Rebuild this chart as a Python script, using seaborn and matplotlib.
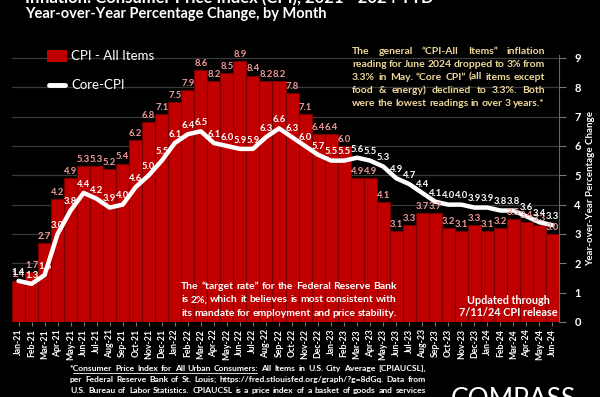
import numpy as np
import pandas as pd
import seaborn as sns
import matplotlib.pyplot as plt
from matplotlib.patches import Rectangle
from matplotlib.lines import Line2D

# ---- data ----
months = ["Jan-21", "Feb-21", "Mar-21", "Apr-21", "May-21", "Jun-21", "Jul-21", "Aug-21",
          "Sep-21", "Oct-21", "Nov-21", "Dec-21", "Jan-22", "Feb-22", "Mar-22", "Apr-22",
          "May-22", "Jun-22", "Jul-22", "Aug-22", "Sep-22", "Oct-22", "Nov-22", "Dec-22",
          "Jan-23", "Feb-23", "Mar-23", "Apr-23", "May-23", "Jun-23", "Jul-23", "Aug-23",
          "Sep-23", "Oct-23", "Nov-23", "Dec-23", "Jan-24", "Feb-24", "Mar-24", "Apr-24",
          "May-24", "Jun-24"]
cpi_all = [1.4, 1.7, 2.7, 4.2, 4.9, 5.3, 5.3, 5.2, 5.4, 6.2, 6.8, 7.1,
           7.5, 7.9, 8.6, 8.2, 8.5, 8.9, 8.4, 8.2, 8.2, 7.8, 7.1, 6.4,
           6.4, 6.0, 4.9, 4.9, 4.1, 3.1, 3.3, 3.7, 3.7, 3.2, 3.1, 3.3,
           3.1, 3.2, 3.5, 3.4, 3.3, 3.0]
core_cpi = [1.4, 1.3, 1.6, 3.0, 3.8, 4.4, 4.2, 3.9, 4.0, 4.6, 5.0, 5.5,
            6.1, 6.4, 6.5, 6.1, 6.0, 5.9, 5.9, 6.3, 6.6, 6.3, 6.0, 5.7,
            5.5, 5.5, 5.6, 5.5, 5.3, 4.9, 4.7, 4.4, 4.1, 4.0, 4.0, 3.9,
            3.9, 3.8, 3.8, 3.6, 3.4, 3.3]
y_ticks = list(range(10))

df = pd.DataFrame({"month": months, "cpi": cpi_all, "core": core_cpi,
                   "pos": np.arange(len(months))})

sns.set_style("dark", {"axes.facecolor": "black", "figure.facecolor": "black"})
plt.rcParams["font.family"] = ["Lato", "DejaVu Sans"]

W, H = 600, 397
fig = plt.figure(figsize=(W / 100, H / 100), dpi=100, facecolor="black")
ax = fig.add_axes([12 / W, 1 - 322 / H, 547 / W, 267 / H])
ax.set_facecolor("black")

RED = "#c00000"
sns.barplot(data=df, x="month", y="cpi", color=RED, saturation=1, width=1.0,
            edgecolor="#7a0000", linewidth=0.8, ax=ax, zorder=2)
sns.lineplot(data=df, x="pos", y="core", color="white", linewidth=3.2, ax=ax,
             zorder=3, solid_joinstyle="round", solid_capstyle="round")

# value labels
for i, v in enumerate(cpi_all):
    ax.annotate(f"{v:.1f}", (i, v), xytext=(0, 1.5), textcoords="offset points",
                ha="center", va="bottom", color="#f29a9a", fontsize=6.8,
                fontweight="bold", zorder=4)
for i, v in enumerate(core_cpi):
    ax.annotate(f"{v:.1f}", (i, v), xytext=(0, 3), textcoords="offset points",
                ha="center", va="bottom", color="white", fontsize=6.8,
                fontweight="bold", zorder=5)

ax.set_xlim(-0.5, len(months) - 0.5)
ax.set_ylim(0, 9.1)
ax.set_yticks(y_ticks)
ax.yaxis.tick_right()
ax.yaxis.set_label_position("right")
ax.set_ylabel("Year-over-Year Percentage Change", color="white", fontsize=7,
              fontweight="bold", labelpad=4)
ax.set_xlabel("")
ax.set_xticks(range(len(months)))
ax.set_xticklabels(months, rotation=90, color="white", fontsize=6.3, fontweight="bold")
ax.tick_params(axis="y", colors="white", labelsize=8, length=5, color="#777777",
               right=True, left=False, pad=6)
ax.tick_params(axis="x", bottom=True, length=3, color="#777777", pad=2)
for lab in ax.get_yticklabels():
    lab.set_fontweight("bold")
ax.grid(axis="y", color="#3a3a3a", linewidth=0.9)
ax.grid(axis="x", visible=False)
ax.set_axisbelow(True)
for s in ["left", "top", "bottom"]:
    ax.spines[s].set_visible(False)
ax.spines["right"].set_color("#666666")
ax.spines["right"].set_linewidth(0.8)


def fx(px):
    return px / W


def fy(py):
    return 1 - py / H


renderer = fig.canvas.get_renderer()


def justify(lines, x0, x1, base0, step, **kw):
    # place each word so the line fills x0..x1 (like justified text in the source)
    placed = []
    for k, line in enumerate(lines):
        words = line.split()
        texts = [fig.text(0, fy(base0 + k * step), w, va="baseline", **kw) for w in words]
        widths = [t.get_window_extent(renderer).width for t in texts]
        gap = (x1 - x0 - sum(widths)) / max(len(words) - 1, 1)
        x = x0
        for t, w in zip(texts, widths):
            t.set_x(fx(x))
            placed.append((k, x, x + w))
            x += w + gap
    return placed


# titles (top line is cut off in the source)
fig.text(fx(25), fy(3), "Inflation: Consumer Price Index (CPI), 2021 - 2024 YTD",
         color="white", fontsize=12, fontweight="bold", va="baseline")
fig.text(fx(25), fy(18), "Year-over-Year Percentage Change, by Month",
         color="white", fontsize=10.5, fontweight="bold", va="baseline")

# legend
fig.add_artist(Rectangle((fx(47), fy(62)), fx(20), 12 / H, transform=fig.transFigure,
                         facecolor=RED, edgecolor="none"))
fig.text(fx(71), fy(56), "CPI - All Items", color="white", fontsize=9.5, va="center")
fig.add_artist(Line2D([fx(49), fx(65)], [fy(85), fy(85)], transform=fig.transFigure,
                      color="white", linewidth=3.5, solid_capstyle="round"))
fig.text(fx(71), fy(85), "Core-CPI", color="white", fontsize=9.5, va="center")

# notes
note_top = ["The general \u201cCPI-All Items\u201d inflation",
            "reading for June 2024 dropped to 3% from",
            "3.3% in May. \u201cCore CPI\u201d (all items except",
            "food & energy) declined to 3.3%. Both",
            "were the lowest readings in over 3 years.*"]
justify(note_top, 352, 545, 54, 12.9, color="#efd899", fontsize=7.5, fontweight="bold")

note_fed = ["The \u201ctarget rate\u201d for the Federal Reserve Bank",
            "is 2%, which it believes is most consistent with",
            "its mandate for employment and price stability."]
justify(note_fed, 181, 397, 289, 13.5, color="white", fontsize=7.5, fontweight="bold")

fig.text(fx(508), fy(300), "Updated through", color="white", fontsize=7.8,
         fontweight="bold", ha="center", va="center")
fig.text(fx(508), fy(313), "7/11/24 CPI release", color="white", fontsize=7.8,
         fontweight="bold", ha="center", va="center")

foot = ["*Consumer Price Index for All Urban Consumers: All Items in U.S. City Average [CPIAUCSL],",
        "per Federal Reserve Bank of St. Louis; https://fred.stlouisfed.org/graph/?g=8dGq. Data from",
        "U.S. Bureau of Labor Statistics. CPIAUCSL is a price index of a basket of goods and services"]
spots = justify(foot, 70, 426, 371, 11.2, color="white", fontsize=6.1, fontweight="bold")
# underline "Consumer Price Index for All Urban Consumers"
first = [s for s in spots if s[0] == 0]
fig.add_artist(Line2D([fx(first[0][1] + 3), fx(first[6][2] - 2)], [fy(372.5), fy(372.5)],
                      transform=fig.transFigure, color="white", linewidth=0.6))

fig.text(fx(451), fy(387), "COMPASS", color="white", fontsize=19, va="top")

fig.savefig("out.png", dpi=100, facecolor="black")
